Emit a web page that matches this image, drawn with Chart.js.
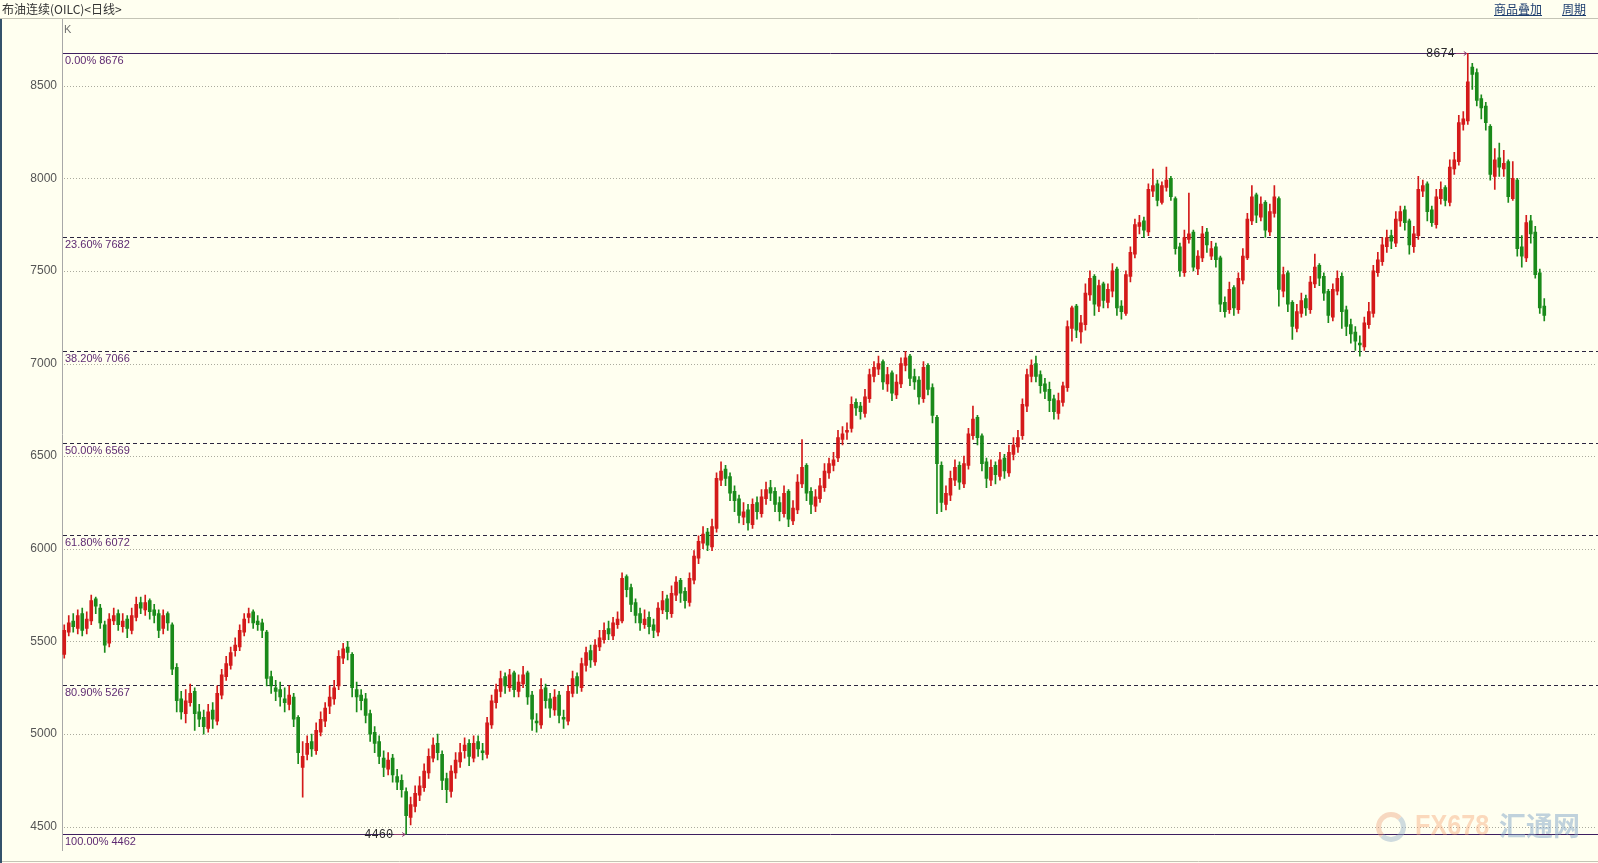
<!DOCTYPE html>
<html>
<head>
<meta charset="utf-8">
<script src="https://cdn.jsdelivr.net/npm/chart.js@4.4.1/dist/chart.umd.min.js"></script>
<style>
  html, body { margin: 0; padding: 0; background: #fffff0; }
  #wrap { position: relative; width: 1598px; height: 863px; overflow: hidden; background: #fffff0; }
  #wrap canvas { position: absolute; left: 0; top: 0; }
  .title { position: absolute; left: 2px; top: 1px; font: 12px "Noto Sans CJK SC"; color: #333; line-height: 16px; white-space: nowrap; }
  .link { position: absolute; top: 1px; font: 12px "Noto Sans CJK SC"; color: #1c3d6e; text-decoration: underline; line-height: 16px; }
  .wm { position: absolute; top: 808px; pointer-events: none; white-space: nowrap; }
  .logo { position: absolute; left: 1376px; top: 812px; width: 20px; height: 20px; border: 5px solid rgba(235, 160, 120, 0.4);
          border-right-color: rgba(150, 175, 200, 0.45); border-bottom-color: rgba(150, 175, 200, 0.45); border-radius: 50%; }
  .fx { left: 1415px; font: bold 30px "Liberation Sans"; color: rgba(246, 160, 110, 0.4); transform: scaleX(0.84); transform-origin: left top; }
  .ht { left: 1499px; top: 810px; font: bold 27px "Noto Sans CJK SC"; color: rgba(130, 165, 200, 0.5); line-height: 30px; }
</style>
</head>
<body>
<div id="wrap">
  <canvas id="k-chart" width="1598" height="863"></canvas>
  <div class="title">布油连续(OILC)&lt;日线&gt;</div>
  <div class="link" style="left:1494px">商品叠加</div>
  <div class="link" style="left:1562px">周期</div>
  <div class="logo"></div>
  <div class="wm fx">FX678</div>
  <div class="wm ht">汇通网</div>
</div>
<script>
// daily candles
const opens = [
  5430,5550,5610,5570,5650,5570,5610,5730,5680,5590,
  5490,5610,5650,5580,5620,5560,5630,5710,5670,5720,
  5670,5650,5570,5650,5590,5360,5190,5110,5170,5230,
  5120,5090,5030,5130,5070,5210,5310,5370,5450,5470,
  5550,5630,5660,5610,5600,5550,5310,5250,5240,5190,
  5160,5200,5090,4820,4890,4960,4910,5010,5070,5150,
  5190,5260,5410,5470,5430,5240,5210,5190,5110,5010,
  4960,4870,4810,4870,4770,4750,4690,4550,4610,4670,
  4710,4790,4870,4950,4890,4760,4690,4790,4850,4910,
  4950,4870,4960,4910,4890,5050,5170,5230,5310,5250,
  5330,5230,5270,5330,5210,5070,5050,5250,5190,5130,
  5210,5090,5070,5220,5310,5250,5370,5450,5390,5470,
  5510,5570,5530,5590,5610,5850,5790,5710,5650,5590,
  5630,5590,5550,5670,5730,5650,5750,5830,5770,5710,
  5830,5950,6030,6090,6010,6110,6370,6430,6390,6310,
  6270,6170,6210,6130,6250,6190,6270,6330,6310,6250,
  6190,6310,6150,6210,6350,6450,6310,6230,6270,6330,
  6410,6450,6490,6590,6630,6650,6790,6770,6730,6810,
  6930,6970,7010,6890,6950,6830,6890,6990,7040,6930,
  6910,6810,6990,6870,6710,6450,6240,6290,6370,6450,
  6350,6450,6610,6710,6610,6470,6370,6450,6390,6490,
  6410,6510,6550,6610,6770,6930,7000,6940,6890,6860,
  6810,6730,6790,6870,7190,7310,7170,7210,7370,7470,
  7310,7430,7330,7390,7510,7310,7270,7470,7590,7740,
  7770,7710,7930,7970,7870,7950,8000,7890,7630,7490,
  7670,7710,7510,7570,7710,7580,7630,7570,7330,7290,
  7410,7290,7450,7570,7770,7910,7790,7870,7710,7810,
  7890,7390,7490,7330,7190,7270,7350,7290,7430,7530,
  7470,7390,7250,7390,7470,7290,7210,7170,7110,7090,
  7210,7270,7490,7550,7630,7690,7650,7770,7830,7770,
  7630,7690,7930,7970,7830,7750,7890,7950,7870,8050,
  8090,8290,8310,8600,8570,8430,8390,8280,8010,8110,
  8050,8090,7890,7990,7630,7570,7770,7710,7490,7310
];
const highs = [
  5590,5640,5650,5670,5680,5660,5750,5740,5700,5610,
  5650,5680,5670,5650,5640,5680,5740,5740,5750,5730,
  5700,5670,5670,5660,5600,5380,5230,5240,5270,5250,
  5160,5130,5160,5170,5260,5350,5420,5470,5520,5590,
  5650,5680,5670,5640,5620,5560,5340,5290,5280,5250,
  5260,5220,5100,4960,4990,5000,5060,5120,5170,5260,
  5290,5450,5490,5500,5440,5280,5240,5220,5130,5040,
  4990,4910,4900,4890,4810,4780,4710,4660,4720,4770,
  4840,4920,4980,5000,4910,4790,4830,4900,4950,4980,
  4970,4990,4990,4950,5090,5210,5270,5340,5330,5350,
  5340,5320,5365,5340,5230,5110,5300,5270,5220,5240,
  5230,5130,5260,5340,5330,5410,5470,5480,5510,5560,
  5600,5610,5630,5660,5870,5860,5810,5730,5680,5670,
  5660,5620,5710,5770,5750,5800,5850,5840,5790,5870,
  5990,6070,6120,6110,6160,6410,6470,6450,6410,6340,
  6290,6250,6240,6270,6280,6320,6360,6370,6330,6280,
  6340,6320,6260,6400,6590,6460,6330,6320,6380,6460,
  6490,6520,6640,6660,6680,6820,6810,6790,6860,6970,
  7010,7040,7020,6980,6960,6940,7030,7066,7050,6970,
  6930,7010,7000,6890,6720,6470,6340,6420,6480,6470,
  6500,6650,6770,6720,6620,6490,6480,6470,6520,6510,
  6560,6600,6640,6810,6970,7020,7040,6960,6920,6900,
  6830,6840,6900,7230,7310,7320,7260,7430,7500,7480,
  7450,7440,7430,7540,7520,7340,7500,7630,7780,7800,
  7790,7970,8050,7990,7980,8060,8010,7900,7650,7720,
  7920,7720,7610,7740,7730,7660,7650,7580,7360,7440,
  7420,7490,7620,7810,7960,7920,7900,7880,7860,7960,
  7900,7520,7500,7340,7320,7380,7370,7470,7590,7540,
  7490,7400,7430,7500,7490,7310,7240,7200,7150,7250,
  7330,7530,7600,7680,7720,7720,7820,7850,7850,7780,
  7740,8010,7990,7980,7850,7940,7980,7960,8100,8140,
  8340,8360,8674,8620,8590,8450,8410,8290,8160,8190,
  8150,8100,8090,8000,7690,7800,7800,7740,7510,7350
];
const lows = [
  5410,5530,5550,5540,5530,5540,5590,5650,5570,5440,
  5470,5590,5560,5550,5520,5540,5610,5650,5640,5620,
  5600,5520,5540,5560,5320,5120,5080,5060,5150,5020,
  5040,5000,5010,5030,5050,5190,5290,5350,5420,5450,
  5530,5600,5570,5560,5520,5260,5220,5180,5150,5120,
  5130,5040,4840,4660,4860,4880,4890,4990,5040,5110,
  5160,5240,5380,5400,5200,5120,5130,5060,4960,4900,
  4840,4770,4780,4740,4700,4660,4460,4510,4580,4640,
  4690,4760,4850,4860,4700,4630,4660,4760,4820,4870,
  4830,4850,4880,4860,4870,5030,5140,5200,5220,5230,
  5200,5200,5250,5160,5020,5010,5030,5140,5090,5100,
  5060,5030,5050,5200,5220,5230,5340,5360,5370,5450,
  5490,5510,5510,5570,5600,5740,5660,5600,5560,5570,
  5540,5520,5530,5650,5620,5630,5720,5710,5680,5690,
  5810,5920,6000,5990,5990,6090,6340,6340,6260,6200,
  6140,6130,6100,6110,6160,6170,6240,6260,6200,6150,
  6170,6120,6130,6190,6330,6260,6190,6200,6250,6310,
  6380,6420,6470,6560,6590,6630,6720,6700,6710,6790,
  6900,6940,6860,6850,6800,6810,6870,6960,6880,6860,
  6780,6790,6830,6680,6190,6200,6210,6260,6340,6320,
  6330,6430,6590,6560,6420,6330,6340,6350,6370,6380,
  6390,6480,6520,6590,6740,6900,6900,6840,6810,6740,
  6700,6700,6770,6850,7120,7140,7110,7180,7340,7260,
  7280,7300,7300,7360,7260,7240,7260,7440,7570,7700,
  7680,7690,7900,7850,7860,7930,7880,7590,7470,7470,
  7650,7500,7480,7550,7600,7560,7520,7280,7250,7270,
  7260,7270,7430,7560,7750,7760,7770,7680,7690,7790,
  7310,7360,7280,7130,7170,7250,7260,7270,7410,7420,
  7340,7220,7230,7370,7190,7150,7110,7070,7040,7070,
  7190,7250,7470,7530,7600,7620,7630,7740,7720,7590,
  7600,7670,7900,7770,7740,7730,7860,7850,7850,8020,
  8070,8260,8290,8480,8390,8320,8260,7990,7940,8010,
  8010,7870,7880,7580,7520,7550,7650,7460,7270,7230
];
const closes = [
  5560,5600,5580,5640,5560,5620,5720,5690,5600,5480,
  5620,5640,5590,5610,5570,5640,5700,5680,5710,5660,
  5640,5560,5640,5600,5350,5180,5120,5180,5220,5110,
  5080,5040,5120,5080,5220,5320,5380,5440,5480,5560,
  5620,5650,5600,5590,5560,5300,5260,5230,5200,5170,
  5210,5080,4900,4880,4950,4920,5020,5080,5140,5200,
  5250,5420,5460,5440,5250,5200,5180,5100,5000,4950,
  4880,4820,4860,4780,4740,4700,4560,4620,4680,4720,
  4800,4880,4940,4900,4750,4700,4800,4860,4900,4940,
  4880,4950,4920,4900,5060,5180,5240,5300,5260,5320,
  5240,5280,5320,5200,5080,5060,5240,5180,5140,5200,
  5100,5080,5230,5300,5260,5380,5440,5400,5480,5520,
  5560,5540,5600,5620,5840,5780,5700,5640,5600,5620,
  5580,5560,5680,5720,5660,5760,5820,5760,5720,5840,
  5960,6040,6080,6020,6120,6380,6420,6380,6300,6260,
  6180,6200,6140,6240,6200,6280,6320,6300,6240,6200,
  6300,6160,6220,6360,6440,6300,6240,6280,6340,6420,
  6460,6480,6600,6620,6640,6780,6760,6740,6820,6940,
  6980,7000,6900,6940,6840,6900,7000,7030,6920,6900,
  6820,6980,6860,6720,6460,6250,6300,6380,6440,6360,
  6460,6620,6700,6600,6460,6380,6440,6400,6480,6420,
  6520,6560,6600,6780,6940,6990,6930,6880,6850,6800,
  6740,6800,6880,7200,7300,7180,7220,7380,7460,7320,
  7420,7340,7400,7500,7300,7280,7480,7600,7750,7760,
  7720,7940,7960,7880,7960,7990,7900,7620,7500,7680,
  7700,7520,7580,7700,7640,7620,7560,7320,7280,7400,
  7300,7460,7580,7780,7900,7800,7860,7720,7820,7900,
  7400,7480,7320,7200,7280,7340,7300,7440,7520,7460,
  7380,7260,7400,7460,7280,7200,7160,7120,7100,7220,
  7280,7500,7560,7640,7680,7660,7780,7820,7760,7640,
  7700,7940,7960,7820,7760,7900,7940,7880,8060,8100,
  8300,8320,8520,8560,8420,8380,8300,8020,8100,8060,
  8080,7900,8000,7620,7580,7760,7700,7480,7300,7260
];

// y axis ticks
const yTicks = [4500, 5000, 5500, 6000, 6500, 7000, 7500, 8000, 8500];

// fibonacci retracement from the high 8676 to the low 4462
const fibPercents = ["0.00%", "23.60%", "38.20%", "50.00%", "61.80%", "80.90%", "100.00%"];
const fibValues = [8676, 7682, 7066, 6569, 6072, 5267, 4462];

const RED = "#d41a1a";
const GREEN = "#1a8a1a";
const SLOTS = 341; // empty room right of the last candle

// where 4500 and 8500 sit on the page
const Y_LOW_PX = 826.7;
const Y_HIGH_PX = 85.6;

const labels = Array.from({ length: SLOTS }, (_, i) => i);
const colors = closes.map((c, i) => (c >= opens[i] ? RED : GREEN));
const bodies = closes.map((c, i) => [opens[i], c]);
const wicks = lows.map((l, i) => [l, highs[i]]);

// grid, fib lines, hi/lo marks and frame
const overlay = {
  id: "overlay",
  beforeDatasetsDraw(chart) {
    const { ctx, chartArea: a, scales: { y } } = chart;
    ctx.save();
    ctx.lineWidth = 1;

    ctx.strokeStyle = "#abab9e";
    ctx.setLineDash([1, 2]);
    yTicks.forEach(v => {
      const py = Math.round(y.getPixelForValue(v)) + 0.5;
      ctx.beginPath();
      ctx.moveTo(a.left + 2, py);
      ctx.lineTo(a.right, py);
      ctx.stroke();
    });

    ctx.font = '11px "Liberation Sans"';
    ctx.textBaseline = "top";
    ctx.textAlign = "left";
    fibValues.forEach((v, i) => {
      const py = Math.round(y.getPixelForValue(v)) + 0.5;
      const solid = i === 0 || i === fibValues.length - 1;
      ctx.setLineDash(solid ? [] : [4, 3]);
      ctx.strokeStyle = solid ? "#3e1f60" : "#2b2540";
      ctx.beginPath();
      ctx.moveTo(a.left + 1, py);
      ctx.lineTo(a.right + 2, py);
      ctx.stroke();
      ctx.fillStyle = "#5e2a72";
      ctx.fillText(fibPercents[i] + " " + v, a.left + 3, py + 2);
    });

    ctx.setLineDash([]);
    ctx.fillStyle = "#707070";
    ctx.fillText("K", a.left + 2, 24);
    ctx.restore();
  },
  afterDraw(chart) {
    const { ctx, scales: { x, y } } = chart;
    ctx.save();

    // highest high and lowest low
    let hi = 0, lo = 0;
    highs.forEach((h, i) => { if (h > highs[hi]) hi = i; });
    lows.forEach((l, i) => { if (l < lows[lo]) lo = i; });
    const marks = [[hi, highs[hi]], [lo, lows[lo]]];
    ctx.font = '12px "Liberation Mono"';
    ctx.textBaseline = "middle";
    ctx.textAlign = "right";
    marks.forEach(([idx, val]) => {
      const px = x.getPixelForValue(idx);
      const py = Math.round(y.getPixelForValue(val)) + 0.5;
      ctx.fillStyle = "#2a2a2a";
      ctx.fillText(String(val), px - 13, py);
      ctx.strokeStyle = "#8a3a70";
      ctx.beginPath();
      ctx.moveTo(px - 12, py);
      ctx.lineTo(px - 1, py);
      ctx.moveTo(px - 4, py - 2);
      ctx.lineTo(px - 1, py);
      ctx.lineTo(px - 4, py + 2);
      ctx.stroke();
    });

    // frame
    ctx.strokeStyle = "#c4c4b6";
    ctx.beginPath();
    ctx.moveTo(0, 18.5); ctx.lineTo(1598, 18.5);
    ctx.moveTo(0, 861.5); ctx.lineTo(1598, 861.5);
    ctx.stroke();
    ctx.fillStyle = "#34526b";
    ctx.fillRect(0, 19, 2, 844);
    ctx.restore();
  }
};

const chart = new Chart(document.getElementById("k-chart").getContext("2d"), {
  type: "bar",
  data: {
    labels,
    datasets: [
      { label: "wick", data: wicks, backgroundColor: colors, barThickness: 1, grouped: false, order: 1 },
      { label: "body", data: bodies, backgroundColor: colors, barThickness: 3, grouped: false, order: 0 }
    ]
  },
  options: {
    responsive: false,
    animation: false,
    layout: { padding: { top: 18, bottom: 2, left: 0, right: 2 } },
    plugins: { legend: { display: false }, tooltip: { enabled: false } },
    scales: {
      x: { display: false, offset: true },
      y: {
        min: 4315,
        max: 8865,
        afterFit: s => { s.width = 62; },
        afterBuildTicks: s => { s.ticks = yTicks.map(v => ({ value: v })); },
        grid: { display: false, drawTicks: false },
        border: { display: true, color: "#a8a8a8" },
        ticks: {
          padding: 5,
          color: "#555",
          font: { family: "Liberation Sans", size: 12 },
          callback: v => String(v)
        }
      }
    }
  },
  plugins: [overlay]
});

// fit the value range to the real plot box so 4500/8500 land where the original has them
const area = chart.chartArea;
const ppu = (Y_LOW_PX - Y_HIGH_PX) / 4000;
chart.options.scales.y.min = 4500 - (area.bottom - Y_LOW_PX) / ppu;
chart.options.scales.y.max = 8500 + (Y_HIGH_PX - area.top) / ppu;
chart.update();
</script>
</body>
</html>
